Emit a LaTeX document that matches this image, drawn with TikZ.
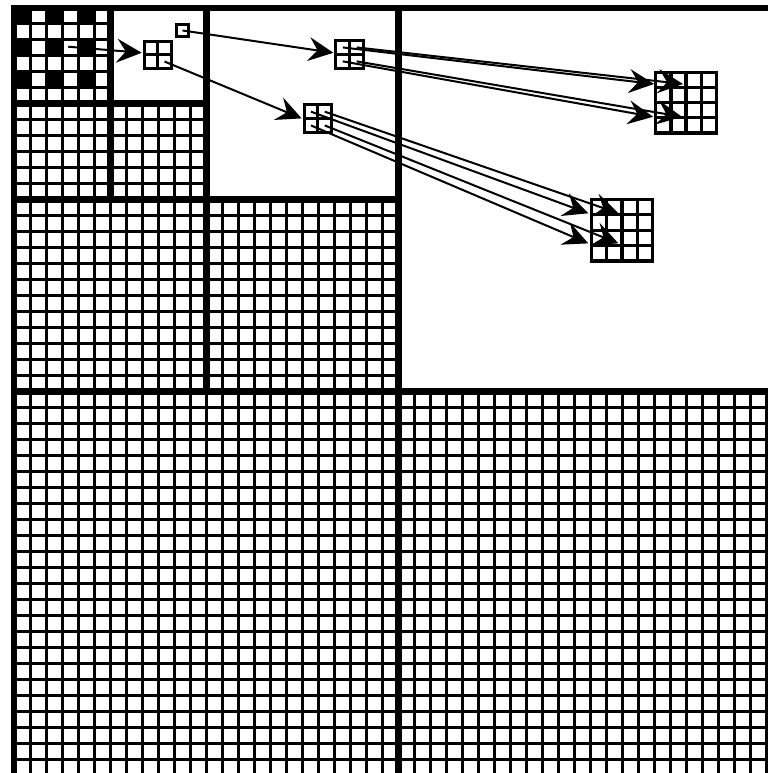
\documentclass[tikz,border=0pt]{standalone}
\usepackage{tikz}
\usetikzlibrary{arrows.meta}

\begin{document}
\begin{tikzpicture}[x=8pt,y=8pt,
    fine/.style={line width=1.6pt},
    wall/.style={line width=3.3pt},
    px/.style={rectangle,draw,line width=1.6pt,inner sep=0pt,outer sep=0pt},
    lnk/.style={->,line width=1pt},
    >={Stealth[length=12.5pt,width=12pt,inset=4.5pt]}]
  \useasboundingbox (-0.906,0.469) rectangle (47.03,-47.84);
  \foreach \c in {0,2,4}
    \foreach \r in {0,2,4}
      \fill (\c,-\r) rectangle ++(1,-1);
  \draw[fine,step=1] (0,-48) grid (48,-24);
  \draw[fine,step=1] (0,-24) grid (24,-12);
  \draw[fine,step=1] (0,-12) grid (12,-6);
  \draw[fine,step=1] (0,-6) grid (6,0);
  \draw[wall] (24,0) -- (24,-48) (0,-24) -- (48,-24)
    (12,0) -- (12,-24) (0,-12) -- (24,-12)
    (6,0) -- (6,-12) (0,-6) -- (12,-6);
  \draw[line width=3pt] (0,0) rectangle (48,-48);

  \node[px,minimum size=6.24pt] (s) at (10.5,-1.435) {};
  \foreach \i in {0,1}
    \foreach \j in {0,1} {
      \node[px,minimum size=6.8pt] (a\i\j) at ({8.525+0.85*\i},{-2.525-0.85*\j}) {};
      \node[px,minimum size=6.96pt] (b\i\j) at ({20.515+0.87*\i},{-2.495-0.87*\j}) {};
      \node[px,minimum size=6.88pt] (c\i\j) at ({18.53+0.86*\i},{-6.51-0.86*\j}) {};
    }
  \foreach \i in {0,...,3}
    \foreach \j in {0,...,3} {
      \node[px,minimum size=7.56pt] (d\i\j) at ({40.5525+0.945*\i},{-4.5325-0.945*\j}) {};
      \node[px,minimum size=7.68pt] (e\i\j) at ({36.53+0.96*\i},{-12.48-0.96*\j}) {};
    }

  \coordinate (src) at (3.36,-2.45);
  \coordinate (ta) at (7.95,-2.83);
  \coordinate (tb) at (19.93,-2.83);
  \coordinate (tc) at (17.95,-6.93);
  \coordinate (td1) at (39.97,-4.78);
  \coordinate (td2) at (41.78,-4.78);
  \coordinate (td3) at (39.91,-6.83);
  \coordinate (td4) at (41.72,-6.83);
  \coordinate (te1) at (35.86,-12.86);
  \coordinate (te2) at (37.74,-12.86);
  \coordinate (te3) at (35.86,-14.74);
  \coordinate (te4) at (37.74,-14.74);

  \draw[lnk] (src) -- (ta);
  \draw[lnk] (s.center) -- (tb);
  \draw[lnk] (a11.center) -- (tc);
  \draw[lnk] (b00.center) -- (td1);
  \draw[lnk] (b10.center) -- (td2);
  \draw[lnk] (b01.center) -- (td3);
  \draw[lnk] (b11.center) -- (td4);
  \draw[lnk] (c00.center) -- (te1);
  \draw[lnk] (c10.center) -- (te2);
  \draw[lnk] (c01.center) -- (te3);
  \draw[lnk] (c11.center) -- (te4);
\end{tikzpicture}
\end{document}
